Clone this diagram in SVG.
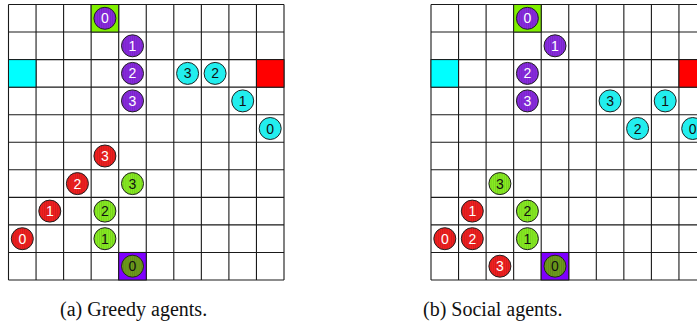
<svg xmlns="http://www.w3.org/2000/svg" width="697" height="329" viewBox="0 0 697 329">
<defs>
<pattern id="stripe" width="2.2" height="4" patternUnits="userSpaceOnUse">
<rect x="0" y="0" width="1" height="4" fill="#000" fill-opacity="0.13"/>
</pattern>
<g id="grid">
<rect x="0" y="0" width="275.5" height="275.5" fill="#fff"/>
<path d="M0 0V275.5M27.55 0V275.5M55.1 0V275.5M82.65 0V275.5M110.2 0V275.5M137.75 0V275.5M165.3 0V275.5M192.85 0V275.5M220.4 0V275.5M247.95 0V275.5M275.5 0V275.5M0 0H275.5M0 27.55H275.5M0 55.1H275.5M0 82.65H275.5M0 110.2H275.5M0 137.75H275.5M0 165.3H275.5M0 192.85H275.5M0 220.4H275.5M0 247.95H275.5M0 275.5H275.5" fill="none" stroke="#1a1a1a" stroke-width="1.1"/>
</g>
</defs>
<style>
.ag{stroke:#222;stroke-width:1}
.pu{fill:#8a2be2}
.rd{fill:#f22020}
.cy{fill:#22eeee}
.gr{fill:#88ee22}
.ol{fill:#6f9e1c}
.st{fill:url(#stripe);stroke:none}
.lw{font-family:"Liberation Sans",Arial,sans-serif;font-size:14px;text-anchor:middle;fill:#fff}
.lb{font-family:"Liberation Sans",Arial,sans-serif;font-size:14px;text-anchor:middle;fill:#111}
.cap{font-family:"Liberation Serif","Times New Roman",serif;font-size:20px;fill:#111}
</style>
<rect width="697" height="329" fill="#fff"/>

<!-- Left grid -->
<g id="gridA">
<use href="#grid" x="8.5" y="4.5"/>
<rect x="91.15" y="4.5" width="27.55" height="27.55" fill="#80f000" stroke="#1a1a1a"/>
<rect x="118.7" y="252.45" width="27.55" height="27.55" fill="#7f00ff" stroke="#1a1a1a"/>
<rect x="8.5" y="59.6" width="27.55" height="27.55" fill="#00ffff" stroke="#1a1a1a"/>
<rect x="256.45" y="59.6" width="27.55" height="27.55" fill="#ff0000" stroke="#1a1a1a"/>
</g>
<g id="a-p0"><circle class="ag pu" cx="104.9" cy="18.3" r="11"/><circle class="st" cx="104.9" cy="18.3" r="11"/><text class="lw" x="104.9" y="23.3">0</text></g>
<g id="a-p1"><circle class="ag pu" cx="132.5" cy="45.8" r="11"/><circle class="st" cx="132.5" cy="45.8" r="11"/><text class="lw" x="132.5" y="50.8">1</text></g>
<g id="a-p2"><circle class="ag pu" cx="132.5" cy="73.4" r="11"/><circle class="st" cx="132.5" cy="73.4" r="11"/><text class="lw" x="132.5" y="78.4">2</text></g>
<g id="a-p3"><circle class="ag pu" cx="132.5" cy="100.9" r="11"/><circle class="st" cx="132.5" cy="100.9" r="11"/><text class="lw" x="132.5" y="105.9">3</text></g>
<g id="a-c3"><circle class="ag cy" cx="187.6" cy="73.4" r="11"/><text class="lb" x="187.6" y="78.4">3</text></g>
<g id="a-c2"><circle class="ag cy" cx="215.1" cy="73.4" r="11"/><text class="lb" x="215.1" y="78.4">2</text></g>
<g id="a-c1"><circle class="ag cy" cx="242.7" cy="100.9" r="11"/><text class="lb" x="242.7" y="105.9">1</text></g>
<g id="a-c0"><circle class="ag cy" cx="270.2" cy="128.5" r="11"/><text class="lb" x="270.2" y="133.5">0</text></g>
<g id="a-r3"><circle class="ag rd" cx="104.9" cy="156" r="11"/><circle class="st" cx="104.9" cy="156" r="11"/><text class="lw" x="104.9" y="161">3</text></g>
<g id="a-r2"><circle class="ag rd" cx="77.4" cy="183.6" r="11"/><circle class="st" cx="77.4" cy="183.6" r="11"/><text class="lw" x="77.4" y="188.6">2</text></g>
<g id="a-r1"><circle class="ag rd" cx="49.8" cy="211.1" r="11"/><circle class="st" cx="49.8" cy="211.1" r="11"/><text class="lw" x="49.8" y="216.1">1</text></g>
<g id="a-r0"><circle class="ag rd" cx="22.3" cy="238.7" r="11"/><circle class="st" cx="22.3" cy="238.7" r="11"/><text class="lw" x="22.3" y="243.7">0</text></g>
<g id="a-g3"><circle class="ag gr" cx="132.5" cy="183.6" r="11"/><circle class="st" cx="132.5" cy="183.6" r="11"/><text class="lb" x="132.5" y="188.6">3</text></g>
<g id="a-g2"><circle class="ag gr" cx="104.9" cy="211.1" r="11"/><circle class="st" cx="104.9" cy="211.1" r="11"/><text class="lb" x="104.9" y="216.1">2</text></g>
<g id="a-g1"><circle class="ag gr" cx="104.9" cy="238.7" r="11"/><circle class="st" cx="104.9" cy="238.7" r="11"/><text class="lb" x="104.9" y="243.7">1</text></g>
<g id="a-g0"><circle class="ag ol" cx="132.5" cy="266.2" r="11"/><circle class="st" cx="132.5" cy="266.2" r="11"/><text class="lb" x="132.5" y="271.2">0</text></g>

<!-- Right grid -->
<g id="gridB">
<use href="#grid" x="431" y="4.5"/>
<rect x="513.65" y="4.5" width="27.55" height="27.55" fill="#80f000" stroke="#1a1a1a"/>
<rect x="541.2" y="252.45" width="27.55" height="27.55" fill="#7f00ff" stroke="#1a1a1a"/>
<rect x="431" y="59.6" width="27.55" height="27.55" fill="#00ffff" stroke="#1a1a1a"/>
<rect x="678.95" y="59.6" width="27.55" height="27.55" fill="#ff0000" stroke="#1a1a1a"/>
</g>
<g id="b-p0"><circle class="ag pu" cx="527.4" cy="18.3" r="11"/><circle class="st" cx="527.4" cy="18.3" r="11"/><text class="lw" x="527.4" y="23.3">0</text></g>
<g id="b-p1"><circle class="ag pu" cx="555" cy="45.8" r="11"/><circle class="st" cx="555" cy="45.8" r="11"/><text class="lw" x="555" y="50.8">1</text></g>
<g id="b-p2"><circle class="ag pu" cx="527.4" cy="73.4" r="11"/><circle class="st" cx="527.4" cy="73.4" r="11"/><text class="lw" x="527.4" y="78.4">2</text></g>
<g id="b-p3"><circle class="ag pu" cx="527.4" cy="100.9" r="11"/><circle class="st" cx="527.4" cy="100.9" r="11"/><text class="lw" x="527.4" y="105.9">3</text></g>
<g id="b-c3"><circle class="ag cy" cx="610.1" cy="100.9" r="11"/><text class="lb" x="610.1" y="105.9">3</text></g>
<g id="b-c1"><circle class="ag cy" cx="665.2" cy="100.9" r="11"/><text class="lb" x="665.2" y="105.9">1</text></g>
<g id="b-c2"><circle class="ag cy" cx="637.6" cy="128.5" r="11"/><text class="lb" x="637.6" y="133.5">2</text></g>
<g id="b-c0"><circle class="ag cy" cx="692.7" cy="128.5" r="11"/><text class="lb" x="692.7" y="133.5">0</text></g>
<g id="b-g3"><circle class="ag gr" cx="499.9" cy="183.6" r="11"/><circle class="st" cx="499.9" cy="183.6" r="11"/><text class="lb" x="499.9" y="188.6">3</text></g>
<g id="b-r1"><circle class="ag rd" cx="472.3" cy="211.1" r="11"/><circle class="st" cx="472.3" cy="211.1" r="11"/><text class="lw" x="472.3" y="216.1">1</text></g>
<g id="b-g2"><circle class="ag gr" cx="527.4" cy="211.1" r="11"/><circle class="st" cx="527.4" cy="211.1" r="11"/><text class="lb" x="527.4" y="216.1">2</text></g>
<g id="b-r0"><circle class="ag rd" cx="444.8" cy="238.7" r="11"/><circle class="st" cx="444.8" cy="238.7" r="11"/><text class="lw" x="444.8" y="243.7">0</text></g>
<g id="b-r2"><circle class="ag rd" cx="472.3" cy="238.7" r="11"/><circle class="st" cx="472.3" cy="238.7" r="11"/><text class="lw" x="472.3" y="243.7">2</text></g>
<g id="b-g1"><circle class="ag gr" cx="527.4" cy="238.7" r="11"/><circle class="st" cx="527.4" cy="238.7" r="11"/><text class="lb" x="527.4" y="243.7">1</text></g>
<g id="b-r3"><circle class="ag rd" cx="499.9" cy="266.2" r="11"/><circle class="st" cx="499.9" cy="266.2" r="11"/><text class="lw" x="499.9" y="271.2">3</text></g>
<g id="b-g0"><circle class="ag ol" cx="555" cy="266.2" r="11"/><circle class="st" cx="555" cy="266.2" r="11"/><text class="lb" x="555" y="271.2">0</text></g>

<g id="captions">
<text class="cap" x="60" y="316">(a) Greedy agents.</text>
<text class="cap" x="423" y="316">(b) Social agents.</text>
</g>
</svg>
